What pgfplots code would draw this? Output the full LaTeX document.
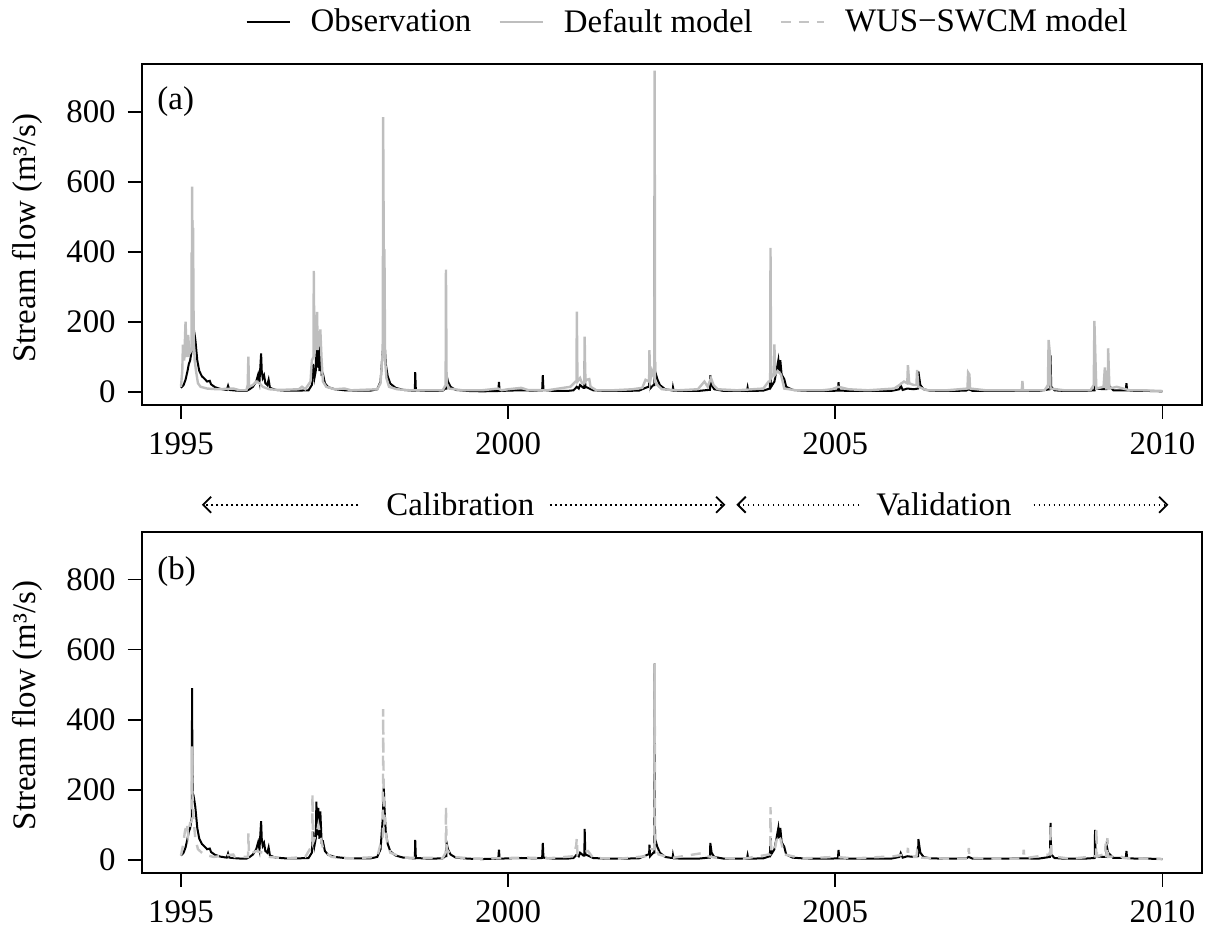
\documentclass[border=0pt]{standalone}
\usepackage{fontspec}
\setmainfont{Liberation Serif}
\usepackage{pgfplots}
\usepackage{pgfplotstable}
\pgfplotsset{compat=1.18}
\usetikzlibrary{arrows.meta}

\definecolor{mgray}{RGB}{190,190,190}
\definecolor{dgray}{RGB}{196,196,196}

\pgfplotstableread{
x y
1995.00 12
1995.04 20
1995.07 35
1995.10 60
1995.12 80
1995.14 90
1995.165 120
1995.17 490
1995.175 260
1995.18 190
1995.19 185
1995.20 175
1995.22 150
1995.25 90
1995.28 60
1995.32 45
1995.36 38
1995.40 30
1995.44 32
1995.46 22
1995.52 14
1995.60 9
1995.70 6
1995.72 18
1995.74 6
1995.85 4
1995.95 3
1996.00 3
1996.05 8
1996.10 15
1996.15 30
1996.18 50
1996.20 30
1996.225 110
1996.235 60
1996.25 40
1996.27 48
1996.29 25
1996.32 20
1996.34 35
1996.36 12
1996.45 6
1996.60 4
1996.80 4
1996.95 5
1997.00 20
1997.02 80
1997.04 40
1997.06 60
1997.07 166
1997.08 70
1997.10 148
1997.115 60
1997.13 138
1997.15 50
1997.17 52
1997.20 25
1997.25 14
1997.35 8
1997.50 5
1997.70 4
1997.90 4
1998.00 8
1998.05 30
1998.085 120
1998.10 209
1998.11 150
1998.13 80
1998.16 45
1998.20 24
1998.28 12
1998.40 6
1998.55 4
1998.575 4
1998.58 57
1998.59 5
1998.80 3
1999.00 4
1999.04 10
1999.055 10
1999.06 48
1999.08 30
1999.12 15
1999.20 6
1999.40 3
1999.60 2
1999.85 3
1999.86 29
1999.87 3
2000.00 4
2000.20 5
2000.40 4
2000.52 5
2000.53 48
2000.54 6
2000.70 3
2000.90 3
2001.00 5
2001.05 15
2001.08 10
2001.10 20
2001.15 12
2001.165 12
2001.17 88
2001.18 15
2001.22 12
2001.30 5
2001.50 3
2001.70 3
2002.00 4
2002.14 15
2002.155 15
2002.16 43
2002.17 10
2002.22 20
2002.235 20
2002.24 560
2002.245 60
2002.28 37
2002.32 20
2002.40 8
2002.50 5
2002.515 5
2002.52 13
2002.53 4
2002.70 3
2002.90 3
2003.06 6
2003.085 6
2003.09 48
2003.11 20
2003.15 8
2003.30 3
2003.50 3
2003.65 3
2003.66 13
2003.67 3
2003.90 4
2004.00 10
2004.01 62
2004.02 15
2004.07 30
2004.10 60
2004.13 91
2004.145 60
2004.16 91
2004.18 50
2004.22 37
2004.25 15
2004.35 6
2004.50 4
2004.70 3
2004.90 3
2005.04 4
2005.05 28
2005.06 4
2005.30 3
2005.60 3
2005.85 3
2005.98 8
2006.00 19
2006.03 6
2006.10 10
2006.20 8
2006.265 10
2006.27 59
2006.30 20
2006.35 8
2006.45 4
2006.70 3
2007.00 4
2007.04 8
2007.10 3
2007.50 3
2007.85 4
2007.90 4
2008.10 3
2008.28 8
2008.29 105
2008.30 15
2008.35 5
2008.50 3
2008.80 3
2008.965 5
2008.97 85
2008.98 10
2009.10 8
2009.145 8
2009.15 38
2009.17 20
2009.25 5
2009.44 5
2009.45 25
2009.46 5
2009.60 3
2009.80 3
2010.00 2
}\obs

\pgfplotstableread{
x y
1995.00 15
1995.02 60
1995.03 135
1995.05 90
1995.07 201
1995.09 100
1995.11 163
1995.13 110
1995.165 120
1995.17 587
1995.18 300
1995.185 469
1995.195 150
1995.21 90
1995.23 60
1995.26 25
1995.30 15
1995.40 10
1995.55 8
1995.80 10
1995.90 5
1996.00 5
1996.02 20
1996.03 101
1996.04 15
1996.10 20
1996.15 30
1996.20 25
1996.25 15
1996.35 8
1996.50 6
1996.80 8
1996.85 15
1996.90 8
1996.98 30
1997.00 90
1997.025 100
1997.03 346
1997.04 100
1997.05 157
1997.06 120
1997.08 229
1997.09 120
1997.10 157
1997.11 130
1997.13 179
1997.15 90
1997.17 30
1997.22 15
1997.35 8
1997.50 10
1997.60 5
1998.00 8
1998.05 25
1998.085 120
1998.09 785
1998.10 398
1998.11 400
1998.12 91
1998.14 40
1998.18 15
1998.30 8
1998.50 5
1999.00 5
1999.045 20
1999.05 350
1999.06 25
1999.10 10
1999.30 5
1999.60 5
1999.85 10
1999.90 5
2000.00 8
2000.20 12
2000.30 6
2000.60 5
2000.95 15
2001.03 30
2001.045 30
2001.05 230
2001.06 30
2001.10 40
2001.13 25
2001.165 25
2001.17 158
2001.18 30
2001.20 35
2001.24 37
2001.26 15
2001.35 5
2001.60 5
2001.90 8
2002.05 12
2002.10 35
2002.155 30
2002.16 120
2002.17 30
2002.20 60
2002.235 40
2002.24 918
2002.245 30
2002.28 20
2002.35 8
2002.60 5
2002.90 8
2003.00 30
2003.05 15
2003.10 40
2003.14 20
2003.20 8
2003.50 5
2003.90 10
2003.98 30
2004.005 30
2004.01 412
2004.02 40
2004.05 50
2004.065 50
2004.07 136
2004.08 50
2004.12 60
2004.17 50
2004.22 10
2004.40 5
2004.80 5
2004.95 8
2005.05 15
2005.20 8
2005.50 5
2005.90 10
2005.98 20
2006.05 30
2006.10 25
2006.11 77
2006.13 25
2006.20 20
2006.24 20
2006.25 63
2006.27 15
2006.40 5
2006.70 5
2007.02 10
2007.03 56
2007.05 50
2007.06 10
2007.30 5
2007.80 5
2007.85 5
2007.86 32
2007.87 5
2008.20 5
2008.25 20
2008.26 149
2008.28 110
2008.29 10
2008.50 5
2008.90 5
2008.95 20
2008.96 203
2008.98 68
2008.99 10
2009.10 15
2009.12 70
2009.14 10
2009.165 10
2009.17 125
2009.19 10
2009.30 15
2009.40 10
2009.50 5
2009.70 5
2010.00 3
}\defmod

\pgfplotstableread{
x y
1995.00 12
1995.03 40
1995.06 80
1995.09 105
1995.11 70
1995.14 105
1995.165 110
1995.17 324
1995.175 190
1995.19 120
1995.22 60
1995.26 30
1995.35 15
1995.50 8
1995.80 15
1995.82 8
1996.00 8
1996.025 8
1996.03 76
1996.04 15
1996.15 25
1996.25 20
1996.35 8
1996.60 4
1996.90 8
1997.00 40
1997.005 40
1997.01 186
1997.02 50
1997.08 80
1997.10 100
1997.14 60
1997.18 25
1997.30 8
1997.60 4
1998.00 8
1998.07 60
1998.085 60
1998.09 430
1998.10 150
1998.12 100
1998.15 50
1998.20 20
1998.40 6
1999.00 5
1999.045 20
1999.05 150
1999.06 30
1999.15 8
1999.50 3
2000.00 5
2000.30 6
2000.60 4
2001.00 10
2001.04 40
2001.05 62
2001.06 15
2001.12 20
2001.22 25
2001.30 5
2001.70 3
2002.10 10
2002.18 30
2002.235 30
2002.24 560
2002.245 40
2002.30 15
2002.50 5
2003.00 20
2003.05 10
2003.20 5
2003.60 3
2003.98 15
2004.005 15
2004.01 150
2004.02 20
2004.08 35
2004.12 72
2004.16 60
2004.22 15
2004.50 4
2005.00 8
2005.30 4
2005.90 10
2006.05 15
2006.10 12
2006.11 34
2006.12 8
2006.24 8
2006.25 25
2006.30 6
2006.70 3
2007.03 3
2007.04 34
2007.05 5
2007.50 3
2007.87 3
2007.88 29
2007.89 4
2008.27 15
2008.285 15
2008.29 100
2008.30 10
2008.60 3
2008.97 10
2008.985 10
2008.99 90
2009.00 10
2009.10 15
2009.125 10
2009.13 46
2009.14 10
2009.155 10
2009.16 62
2009.17 8
2009.35 12
2009.40 5
2009.70 3
2010.00 2
}\wus

\tikzset{
  arr/.style={line width=0.9bp, dash pattern=on 0.9bp off 1.6bp, -{Straight Barb[length=4bp,width=8bp]}},
}

\pgfplotsset{
  panel/.style={
    scale only axis, width=530bp, height=170.5bp,
    xmin=1994.4, xmax=2010.6, ymin=-37, ymax=937,
    xtick={1995,2000,2005,2010}, ytick={0,200,...,800},
    tick align=outside, xtick pos=bottom, ytick pos=left,
    major tick length=7bp,
    every tick/.style={black, line width=0.8bp},
    axis line style={line width=1bp},
    /pgf/number format/1000 sep={},
    /pgf/number format/assume math mode=true,
    tick label style={font=\fontsize{16.5}{19}\selectfont},
    yticklabel style={xshift=-2.5bp},
    xticklabel style={yshift=-3.5bp},
    ylabel={Stream flow (m³/s)},
    ylabel style={font=\fontsize{16.5}{19}\selectfont, at={(axis description cs:-0.108,0.49)}, anchor=center},
    clip=false,
  },
  obsline/.style={black, line width=1bp},
  defline/.style={mgray, line width=1.2bp},
  wusline/.style={dgray, line width=1.2bp, dash pattern=on 5bp off 4bp},
}

\begin{document}
\begin{tikzpicture}
\begin{axis}[panel, at={(0,233.85bp)}, anchor=south west,
  legend columns=3,
  legend style={draw=none, fill=none, font=\fontsize{16.5}{19}\selectfont,
    at={(axis description cs:0.516,1.123)}, anchor=center,
    /tikz/every odd column/.append style={column sep=8bp},
    /tikz/every even column/.append style={column sep=11.5bp}},
  legend image code/.code={\draw[#1] (0bp,0bp) -- (21.5bp,0bp);},
]
\addplot[obsline] table {\obs};
\addlegendentry{Observation}
\addplot[defline] table {\defmod};
\addlegendentry{Default model}
\addlegendimage{wusline}
\addlegendentry{WUS\textminus SWCM model}
\node[anchor=base west, inner sep=0, font=\fontsize{16.5}{19}\selectfont] at (rel axis cs:0.0145,0.868) {(a)};
\end{axis}

\begin{axis}[panel, at={(0,0)}, anchor=south west]
\addplot[obsline] table {\obs};
\addplot[wusline] table {\wus};
\node[anchor=base west, inner sep=0, font=\fontsize{16.5}{19}\selectfont] at (rel axis cs:0.0145,0.86) {(b)};
\draw[arr] (axis cs:1997.71,1014) -- (axis cs:1995.32,1014);
\draw[arr] (axis cs:2000.64,1014) -- (axis cs:2003.32,1014);
\draw[arr] (axis cs:2005.37,1014) -- (axis cs:2003.49,1014);
\draw[arr] (axis cs:2008.03,1014) -- (axis cs:2010.09,1014);
\node[font=\fontsize{16.5}{19}\selectfont, anchor=center] at (axis cs:1999.27,1014) {Calibration};
\node[font=\fontsize{16.5}{19}\selectfont, anchor=center] at (axis cs:2006.66,1014) {Validation};
\end{axis}
\pgfresetboundingbox
\useasboundingbox (-70.85bp,-28.65bp) rectangle (533.65bp,436.35bp);
\end{tikzpicture}
\end{document}
